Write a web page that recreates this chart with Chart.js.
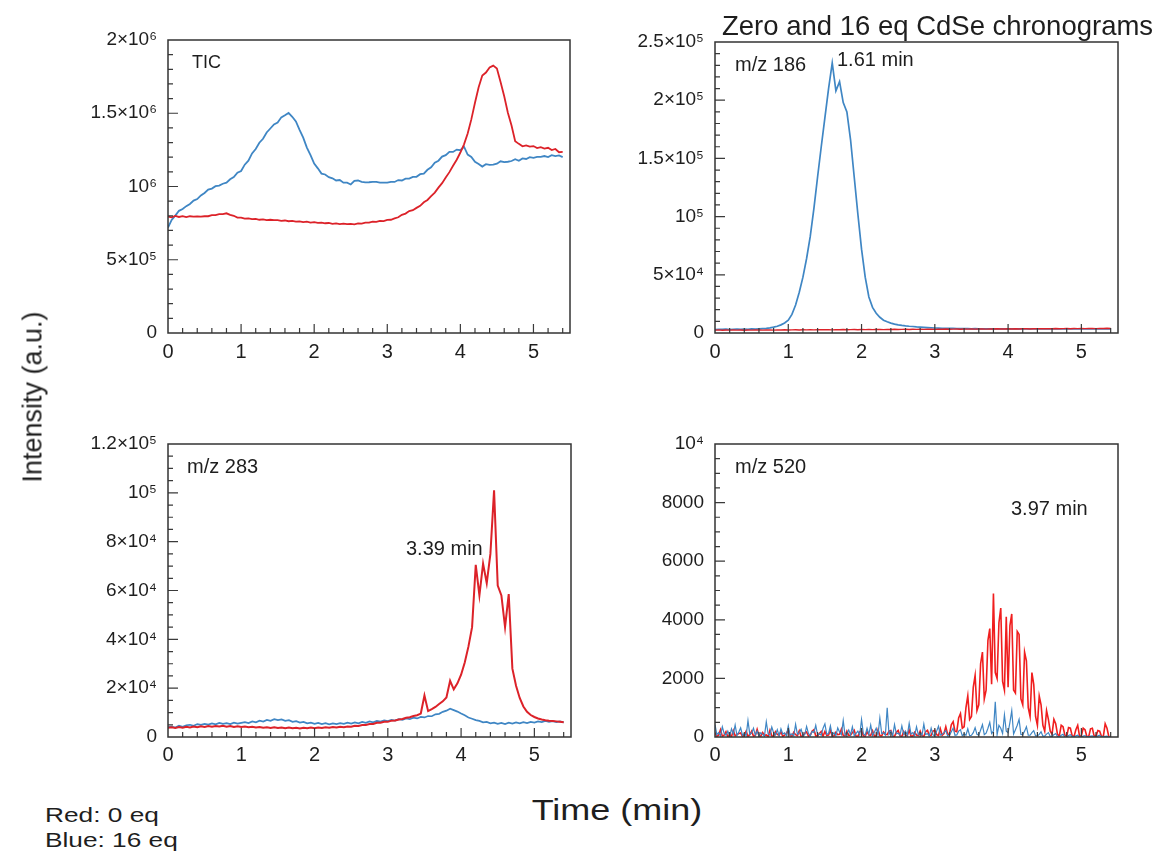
<!DOCTYPE html>
<html>
<head>
<meta charset="utf-8">
<script src="https://cdn.jsdelivr.net/npm/chart.js@4/dist/chart.umd.min.js"></script>
<style>
  html, body { margin: 0; padding: 0; background: #fff; }
  body { width: 1164px; height: 863px; position: relative; overflow: hidden; }
  canvas { position: absolute; }
  .lab { position: absolute; font-family: 'Liberation Sans', Arial, sans-serif; line-height: 1; white-space: nowrap; color: #1e1e1e; }
</style>
</head>
<body>
<canvas id="c1" width="582" height="372" style="left:0;top:0"></canvas>
<canvas id="c2" width="582" height="372" style="left:582px;top:0"></canvas>
<canvas id="c3" width="582" height="372" style="left:0;top:400px"></canvas>
<canvas id="c4" width="582" height="372" style="left:582px;top:400px"></canvas>

<div class="lab" style="left:722px;top:12px;font-size:27.5px;">Zero and 16 eq CdSe chronograms</div>
<div class="lab" style="left:33px;top:397px;font-size:27px;transform:translate(-50%,-50%) rotate(-90deg);">Intensity (a.u.)</div>
<div class="lab" style="left:617px;top:795px;font-size:30px;transform:translate(-50%,0) scaleX(1.2);">Time (min)</div>
<div class="lab" style="left:45px;top:804px;font-size:21px;transform-origin:left center;transform:scaleX(1.25);">Red: 0 eq</div>
<div class="lab" style="left:45px;top:829px;font-size:21px;transform-origin:left center;transform:scaleX(1.25);">Blue: 16 eq</div>

<div class="lab" style="left:192px;top:53px;font-size:18px;">TIC</div>
<div class="lab" style="left:735px;top:54px;font-size:20px;">m/z 186</div>
<div class="lab" style="left:837px;top:49px;font-size:20px;">1.61 min</div>
<div class="lab" style="left:187px;top:456px;font-size:20px;">m/z 283</div>
<div class="lab" style="left:406px;top:538px;font-size:20px;">3.39 min</div>
<div class="lab" style="left:735px;top:456px;font-size:20px;">m/z 520</div>
<div class="lab" style="left:1011px;top:498px;font-size:20px;">3.97 min</div>

<script>
// ---------- data (time in min, intensity in counts) ----------
const times = [0,0.05,0.1,0.15,0.2,0.25,0.3,0.35,0.4,0.45,
  0.5,0.55,0.6,0.65,0.7,0.75,0.8,0.85,0.9,0.95,
  1,1.05,1.1,1.15,1.2,1.25,1.3,1.35,1.4,1.45,
  1.5,1.55,1.6,1.65,1.7,1.75,1.8,1.85,1.9,1.95,
  2,2.05,2.1,2.15,2.2,2.25,2.3,2.35,2.4,2.45,
  2.5,2.55,2.6,2.65,2.7,2.75,2.8,2.85,2.9,2.95,
  3,3.05,3.1,3.15,3.2,3.25,3.3,3.35,3.4,3.45,
  3.5,3.55,3.6,3.65,3.7,3.75,3.8,3.85,3.9,3.95,
  4,4.05,4.1,4.15,4.2,4.25,4.3,4.35,4.4,4.45,
  4.5,4.55,4.6,4.65,4.7,4.75,4.8,4.85,4.9,4.95,
  5,5.05,5.1,5.15,5.2,5.25,5.3,5.35,5.4];

const times520 = [0,0.025,0.05,0.075,0.1,0.125,0.15,0.175,0.2,0.225,0.25,0.275,0.3,0.325,0.35,0.375,0.4,0.425,0.45,0.475,
  0.5,0.525,0.55,0.575,0.6,0.625,0.65,0.675,0.7,0.725,0.75,0.775,0.8,0.825,0.85,0.875,0.9,0.925,0.95,0.975,
  1,1.025,1.05,1.075,1.1,1.125,1.15,1.175,1.2,1.225,1.25,1.275,1.3,1.325,1.35,1.375,1.4,1.425,1.45,1.475,
  1.5,1.525,1.55,1.575,1.6,1.625,1.65,1.675,1.7,1.725,1.75,1.775,1.8,1.825,1.85,1.875,1.9,1.925,1.95,1.975,
  2,2.025,2.05,2.075,2.1,2.125,2.15,2.175,2.2,2.225,2.25,2.275,2.3,2.325,2.35,2.375,2.4,2.425,2.45,2.475,
  2.5,2.525,2.55,2.575,2.6,2.625,2.65,2.675,2.7,2.725,2.75,2.775,2.8,2.825,2.85,2.875,2.9,2.925,2.95,2.975,
  3,3.025,3.05,3.075,3.1,3.125,3.15,3.175,3.2,3.225,3.25,3.275,3.3,3.325,3.35,3.375,3.4,3.425,3.45,3.475,
  3.5,3.525,3.55,3.575,3.6,3.625,3.65,3.675,3.7,3.725,3.75,3.775,3.8,3.825,3.85,3.875,3.9,3.925,3.95,3.975,
  4,4.025,4.05,4.075,4.1,4.125,4.15,4.175,4.2,4.225,4.25,4.275,4.3,4.325,4.35,4.375,4.4,4.425,4.45,4.475,
  4.5,4.525,4.55,4.575,4.6,4.625,4.65,4.675,4.7,4.725,4.75,4.775,4.8,4.825,4.85,4.875,4.9,4.925,4.95,4.975,
  5,5.025,5.05,5.075,5.1,5.125,5.15,5.175,5.2,5.225,5.25,5.275,5.3,5.325,5.35,5.375,5.4];

const ticBlue = [7.20e5,7.72e5,8.01e5,8.34e5,8.46e5,8.66e5,8.81e5,9.04e5,9.14e5,9.39e5,
  9.56e5,9.79e5,9.86e5,1.002e6,1.006e6,1.019e6,1.026e6,1.049e6,1.064e6,1.094e6,
  1.106e6,1.149e6,1.176e6,1.226e6,1.256e6,1.299e6,1.326e6,1.369e6,1.396e6,1.424e6,
  1.436e6,1.472e6,1.486e6,1.502e6,1.476e6,1.444e6,1.386e6,1.334e6,1.266e6,1.214e6,
  1.156e6,1.124e6,1.088e6,1.082e6,1.064e6,1.056e6,1.041e6,1.044e6,1.026e6,1.026e6,
  1.014e6,1.039e6,1.041e6,1.032e6,1.028e6,1.029e6,1.031e6,1.032e6,1.026e6,1.026e6,
  1.026e6,1.032e6,1.031e6,1.044e6,1.041e6,1.054e6,1.054e6,1.066e6,1.066e6,1.084e6,
  1.088e6,1.114e6,1.131e6,1.162e6,1.176e6,1.204e6,1.214e6,1.236e6,1.236e6,1.252e6,
  1.248e6,1.272e6,1.218e6,1.202e6,1.168e6,1.154e6,1.136e6,1.152e6,1.148e6,1.149e6,
  1.156e6,1.172e6,1.166e6,1.169e6,1.174e6,1.186e6,1.176e6,1.192e6,1.188e6,1.200e6,
  1.196e6,1.202e6,1.202e6,1.208e6,1.201e6,1.214e6,1.208e6,1.212e6,1.201e6];

const ticRed = [7.95e5,7.90e5,7.99e5,7.92e5,7.98e5,7.91e5,7.97e5,7.95e5,7.96e5,7.94e5,
  7.97e5,7.97e5,8.04e5,8.04e5,8.12e5,8.12e5,8.17e5,8.06e5,8.00e5,7.88e5,
  7.87e5,7.81e5,7.82e5,7.77e5,7.79e5,7.73e5,7.76e5,7.70e5,7.73e5,7.70e5,
  7.71e5,7.66e5,7.68e5,7.63e5,7.65e5,7.60e5,7.62e5,7.57e5,7.60e5,7.54e5,
  7.57e5,7.52e5,7.54e5,7.49e5,7.51e5,7.45e5,7.48e5,7.43e5,7.46e5,7.43e5,
  7.45e5,7.42e5,7.48e5,7.46e5,7.53e5,7.53e5,7.60e5,7.58e5,7.65e5,7.64e5,
  7.72e5,7.73e5,7.82e5,7.90e5,8.07e5,8.15e5,8.32e5,8.38e5,8.54e5,8.68e5,
  8.92e5,9.08e5,9.34e5,9.58e5,9.92e5,1.023e6,1.062e6,1.098e6,1.142e6,1.183e6,
  1.232e6,1.288e6,1.362e6,1.458e6,1.572e6,1.678e6,1.758e6,1.778e6,1.812e6,1.825e6,
  1.806e6,1.714e6,1.616e6,1.504e6,1.416e6,1.309e6,1.291e6,1.274e6,1.281e6,1.272e6,
  1.276e6,1.262e6,1.268e6,1.259e6,1.264e6,1.249e6,1.256e6,1.234e6,1.236e6];

const mz186Blue = [3000,3200,3100,3300,3000,3200,3400,3100,3300,3200,
  3500,3400,3600,3800,4000,4400,5000,5800,7000,8600,
  11000,16000,24000,35000,48000,64000,83000,107000,134000,160000,
  185000,210000,232000,208000,216000,198000,190000,166000,134000,102000,
  72000,48000,31000,22000,17000,13500,11000,9600,8500,7600,
  7000,6500,6100,5800,5600,5300,5100,4900,4700,4500,
  4300,4200,4100,4000,3900,3900,3800,3800,3700,3700,
  3600,3700,3600,3500,3600,3500,3600,3500,3500,3600,
  3500,3600,3500,3600,3500,3500,3600,3500,3600,3500,
  3600,3500,3600,3500,3600,3600,3500,3600,3500,3600,
  3500,3600,3500,3600,3500,3600,3500,3600,3500];

const mz186Red = [2500,2700,2400,2600,2500,2700,2500,2600,2400,2600,
  2500,2700,2600,2500,2700,2600,2500,2700,2600,2800,
  2600,2700,2800,2600,2800,2700,2900,2700,2800,2900,
  2800,2900,2700,2900,2800,3000,2800,2900,3000,2800,
  3000,2900,3100,2900,3000,3100,2900,3100,3000,3200,
  3000,3100,3200,3000,3200,3100,3300,3100,3200,3300,
  3100,3300,3200,3400,3200,3300,3400,3200,3400,3300,
  3500,3300,3400,3500,3300,3500,3400,3600,3400,3500,
  3600,3500,3700,3500,3600,3700,3500,3700,3600,3800,
  3600,3800,3700,3900,3700,3800,3900,3700,3900,3800,
  4000,3800,3900,4000,3800,4000,3900,4100,3900];

const mz283Blue = [4000,4300,3900,4600,4200,4800,5000,4600,5300,5000,
  5400,5100,5600,5200,5800,5400,5700,5300,5900,5500,
  5800,6100,5700,6400,6000,6700,6300,7000,6600,7300,
  6900,7200,6600,6900,6200,6500,5900,6200,5600,5900,
  5400,5800,5300,5700,5200,5600,5300,5700,5400,5900,
  5500,6000,5600,6200,5800,6400,6000,6600,6300,6800,
  6500,7000,6700,7300,7000,7600,7300,7900,7600,8200,
  8000,8600,8500,9300,9500,10300,10800,11600,11000,10400,
  9600,8900,8000,7500,6900,6600,6000,6200,5600,5900,
  5400,5800,5300,5900,5500,6000,5600,6100,5700,6200,
  5900,6400,6100,6600,6200,6500,6100,6400,6000];

const mz283Red = [3800,4000,3700,4100,3800,4200,3900,4300,4000,4400,
  4100,4500,4200,4500,4300,4600,4200,4500,4100,4400,
  4100,4300,4000,4200,3900,4100,3800,4000,3700,4000,
  3700,3900,3600,3900,3600,3800,3500,3800,3600,3900,
  3600,3900,3700,4000,3800,4100,3900,4200,4000,4300,
  4200,4600,4500,4900,4900,5300,5300,5800,5800,6200,
  6200,6700,6800,7200,7400,7900,8100,8600,8900,9600,
  17000,10600,11400,12300,13500,14600,16200,23000,19500,22000,
  25500,30500,37000,45000,70500,58000,71000,63000,75000,101000,
  62000,58000,45000,58500,28000,21000,16000,12500,10300,9000,
  8200,7600,7200,6900,6700,6600,6400,6200,6000];

const mz520Blue = [420,80,150,40,350,120,60,200,30,280,90,410,50,170,310,60,120,40,560,90,
  130,300,60,200,40,150,90,30,520,110,60,340,150,70,250,40,280,100,140,50,
  380,60,110,40,430,90,150,260,50,80,360,120,40,190,150,400,70,110,60,300,
  450,90,120,380,60,150,40,310,170,80,560,60,120,240,80,350,40,120,200,70,
  600,110,60,300,90,410,50,160,300,80,650,120,140,60,1000,90,200,40,420,110,
  130,60,380,90,200,60,470,100,150,50,350,80,130,60,440,90,110,40,300,70,
  40,200,370,60,90,150,220,40,50,180,300,60,70,200,250,40,110,60,280,50,
  60,150,320,90,60,240,420,80,130,300,500,120,200,1200,80,400,300,120,750,200,
  150,500,900,100,250,400,600,90,80,200,350,60,60,150,220,40,40,90,180,30,
  30,100,150,20,20,80,120,10,10,60,90,0,0,50,80,10,10,40,60,0,
  0,30,50,10,10,30,40,0,0,40,60,10,10,20,30,0,0];

const mz520Red = [150,20,60,250,30,60,180,10,90,10,220,40,80,120,140,20,60,200,20,80,
  200,30,50,260,40,30,150,60,70,20,230,40,20,180,90,60,180,20,60,120,
  240,40,30,160,80,50,210,20,20,130,170,30,60,200,250,40,40,120,190,30,
  190,60,70,220,30,40,160,80,90,270,50,40,200,60,60,150,230,30,20,170,
  230,40,20,180,70,60,210,30,30,250,50,40,170,90,80,200,220,30,20,160,
  220,40,20,190,60,50,240,30,30,160,70,50,200,40,20,180,230,50,60,200,
  230,80,50,280,60,120,350,100,90,420,520,200,180,650,800,300,350,1000,1400,600,
  700,1700,2100,900,1100,2500,2900,1300,1600,3300,3700,1800,4900,2200,2000,3900,4400,1900,1600,4100,
  1700,3800,4200,1600,1500,3600,3500,1300,1100,2900,2600,1000,700,2200,1800,700,400,1400,1100,400,
  200,900,600,200,100,600,450,80,50,400,350,60,30,320,300,40,20,250,400,30,
  40,300,250,20,10,280,300,30,30,220,200,20,20,450,300,10,0];

// ---------- tick labels ----------
const xTickLabels = ['0','1','2','3','4','5'];
const yTicksTIC = ['0','5×10⁵','10⁶','1.5×10⁶','2×10⁶'];
const yTicks186 = ['0','5×10⁴','10⁵','1.5×10⁵','2×10⁵','2.5×10⁵'];
const yTicks283 = ['0','2×10⁴','4×10⁴','6×10⁴','8×10⁴','10⁵','1.2×10⁵'];
const yTicks520 = ['0','2000','4000','6000','8000','10⁴'];

// ---------- styling ----------
const BLUE = '#3f86c4';
const RED = '#dc2229';
const RED4 = '#f01e1e';
Chart.defaults.font.family = "'Liberation Sans', Arial, sans-serif";
Chart.defaults.color = '#1e1e1e';

const framePlugin = {
  id: 'frame',
  afterDatasetsDraw(chart, args, opts) {
    const ctx = chart.ctx, a = chart.chartArea, x = chart.scales.x, y = chart.scales.y;
    ctx.save();
    ctx.strokeStyle = '#3a3a3a';
    ctx.lineWidth = 1.2;
    ctx.beginPath();
    const xn = Math.round((x.max - x.min) / opts.xMinor);
    const xr = Math.round(opts.xMajor / opts.xMinor);
    for (let k = 1; k <= xn; k++) {
      const px = x.getPixelForValue(x.min + k * opts.xMinor);
      if (px > a.right - 2) continue;
      const len = (k % xr === 0) ? 9 : 5;
      ctx.moveTo(px, a.bottom); ctx.lineTo(px, a.bottom - len);
    }
    const yn = Math.round((y.max - y.min) / opts.yMinor);
    const yr = Math.round(opts.yMajor / opts.yMinor);
    for (let k = 1; k <= yn; k++) {
      const py = y.getPixelForValue(y.min + k * opts.yMinor);
      if (py < a.top + 2) continue;
      const len = (k % yr === 0) ? 10 : 5;
      ctx.moveTo(a.left, py); ctx.lineTo(a.left + len, py);
    }
    ctx.stroke();
    ctx.lineWidth = 1.5;
    ctx.strokeStyle = '#333';
    ctx.strokeRect(a.left, a.top, a.right - a.left, a.bottom - a.top);
    ctx.restore();
  }
};

function pts(xs, vals) { return xs.map((t, i) => ({ x: t, y: vals[i] })); }

function makeChart(id, cfg) {
  const datasets = cfg.series.map(s => ({
    data: pts(s.xs, s.values), borderColor: s.color, borderWidth: s.width,
    pointRadius: 0, tension: 0, fill: false
  }));
  return new Chart(document.getElementById(id), {
    type: 'line',
    data: { datasets },
    options: {
      responsive: false, animation: false, devicePixelRatio: 1,
      parsing: false, normalized: true,
      layout: { padding: cfg.pad },
      plugins: { legend: { display: false }, tooltip: { enabled: false },
        frame: { xMinor: 0.2, xMajor: 1, yMinor: cfg.yMinor, yMajor: cfg.yStep } },
      scales: {
        x: {
          type: 'linear', bounds: 'data', min: 0, max: 5.5,
          grid: { display: false }, border: { display: false },
          afterFit: s => { s.height = cfg.xH; },
          ticks: { stepSize: 1, includeBounds: false, padding: cfg.xPad, maxRotation: 0,
            font: { size: 20 }, color: '#1e1e1e',
            callback: (v, i) => xTickLabels[i] }
        },
        y: {
          type: 'linear', bounds: 'data', min: 0, max: cfg.yMax,
          grid: { display: false }, border: { display: false },
          afterFit: s => { s.width = cfg.yW; },
          ticks: { stepSize: cfg.yStep, includeBounds: false, padding: 3,
            font: { size: 19 }, color: '#1e1e1e',
            callback: (v, i) => cfg.yLabels[i] }
        }
      }
    },
    plugins: [framePlugin]
  });
}

makeChart('c1', {
  series: [{ xs: times, values: ticRed, color: RED, width: 1.8 }, { xs: times, values: ticBlue, color: BLUE, width: 1.8 }],
  yMax: 2e6, yStep: 5e5, yMinor: 1e5, yLabels: yTicksTIC,
  pad: { left: 0, top: 40, right: 12, bottom: 0 }, yW: 168, xH: 39, xPad: -1
});
makeChart('c2', {
  series: [{ xs: times, values: mz186Red, color: RED, width: 1.4 }, { xs: times, values: mz186Blue, color: BLUE, width: 1.7 }],
  yMax: 2.5e5, yStep: 5e4, yMinor: 1e4, yLabels: yTicks186,
  pad: { left: 0, top: 42, right: 46, bottom: 0 }, yW: 133, xH: 39, xPad: -1
});
makeChart('c3', {
  series: [{ xs: times, values: mz283Red, color: RED, width: 2 }, { xs: times, values: mz283Blue, color: BLUE, width: 1.7 }],
  yMax: 1.2e5, yStep: 2e4, yMinor: 5e3, yLabels: yTicks283,
  pad: { left: 0, top: 44, right: 11, bottom: 0 }, yW: 168, xH: 35, xPad: -2
});
makeChart('c4', {
  series: [{ xs: times520, values: mz520Blue, color: BLUE, width: 1.2 }, { xs: times520, values: mz520Red, color: RED4, width: 1.6 }],
  yMax: 1e4, yStep: 2000, yMinor: 500, yLabels: yTicks520,
  pad: { left: 0, top: 44, right: 46, bottom: 0 }, yW: 133, xH: 35, xPad: -2
});
</script>
</body>
</html>
